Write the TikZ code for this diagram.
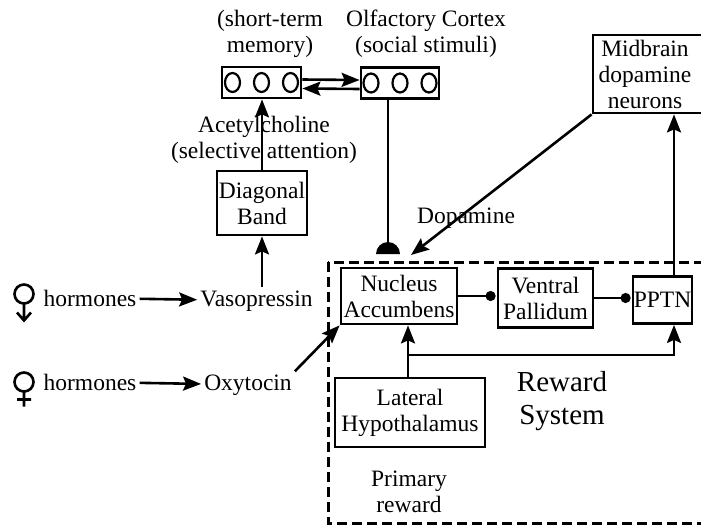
\documentclass[tikz,border=0pt]{standalone}
\usepackage{fontspec}
\setmainfont{Liberation Serif}
\usetikzlibrary{arrows.meta}

\begin{document}
\begin{tikzpicture}[x=1pt,y=-1pt,
  every node/.style={font=\fontsize{23.5}{26}\selectfont,inner sep=0pt},
  box/.style={draw,line width=2.8pt,align=center},
  lbl/.style={align=center},
  word/.style={inner sep=3pt,anchor=base},
  arr/.style={line width=2.6pt,-{Stealth[length=18pt,width=14pt,inset=3pt]}},
  inh/.style={line width=2.6pt,-{Circle[length=10pt]},shorten >=1pt}]

  \useasboundingbox (0,0) rectangle (701,528);

  % cortex
  \node [box,minimum width=79,minimum height=31] (stm) at (261.5,82.5) {};
  \node [box,minimum width=78,minimum height=31] (olf) at (400,83) {};
  \foreach \b in {stm,olf}
    \foreach \dx in {-29,0,29}
      \draw [line width=2.2pt] ([xshift=\dx pt]\b.center) ellipse [x radius=7.5pt,y radius=9.5pt];
  \node [lbl] (stmlbl) at (270,33.5) {(short-term\\memory)};
  \node [lbl] (olflbl) at (426,33.5) {Olfactory Cortex\\(social stimuli)};
  \draw [arr] ([yshift=3pt]stm.east) -- ([yshift=3pt]olf.west);
  \draw [arr] ([yshift=-6pt]olf.west) -- ([yshift=-6pt]stm.east);

  \node [box,minimum width=90,minimum height=64] (db) at (262,203) {Diagonal\\Band};
  \node [lbl] (achlbl) at (264,140) {Acetylcholine\\(selective attention)};
  \draw [arr] (db.north) -- (stm.south -| db.north);

  \node [box,minimum width=124,minimum height=78] (mid) at (655,74) {};
  \node [lbl] (midlbl) at (645,74) {Midbrain\\dopamine\\neurons};

  % hormones
  \node [word] (horm1) at (90,306) {hormones};
  \node [word] (vaso) at (256.5,306) {Vasopressin};
  \node [word] (horm2) at (90,390) {hormones};
  \node [word] (oxy) at (248,390) {Oxytocin};
  \draw [arr] (horm1) -- (vaso);
  \draw [arr] (horm2) -- (oxy);
  \draw [arr] (vaso.north -| db.south) -- (db.south);

  \coordinate (sym1) at (24,294);
  \coordinate (sym2) at (24,382);
  \draw [line width=2.6pt] (sym1) circle [radius=9.5pt] ++(0,9.5) -- ++(0,17)
    ++(-7,-8) -- ++(7,8) -- ++(7,-8);
  \draw [line width=2.6pt] (sym2) circle [radius=9.5pt] ++(0,9.5) -- ++(0,15)
    ++(-7,-7) -- ++(14,0);

  % reward system
  \draw [line width=3pt,dash pattern=on 10pt off 5pt] (328,262) rectangle (720,523);
  \node [box,minimum width=116,minimum height=56] (na) at (399,296) {Nucleus\\Accumbens};
  \node [box,minimum width=95,minimum height=59] (vp) at (545.5,298) {Ventral\\Pallidum};
  \node [box,minimum width=59,minimum height=47] (pptn) at (662.5,300) {PPTN};
  \node [box,minimum width=150,minimum height=69] (lh) at (410,412.5) {Lateral\\Hypothalamus};
  \node [lbl,font=\fontsize{29}{33}\selectfont] (rwd) at (562,401.5) {Reward\\System};
  \node [lbl] (prim) at (409,491.5) {Primary\\reward};

  \draw [inh] (na.east) -- (na.east -| vp.west);
  \draw [inh] (vp.east) -- (vp.east -| pptn.west);

  \coordinate (split) at (408,355);
  \coordinate (tap) at (674,355);
  \draw [arr] (lh.north -| split) -- (split) -- (na.south -| split);
  \draw [arr] (split) -- (tap) -- (pptn.south -| tap);
  \draw [arr] (pptn.north -| tap) -- (mid.south -| tap);

  % dopamine and olfactory input
  \coordinate (dome) at (388,254);
  \coordinate (dtip) at (411,255);
  \node (dopa) at (466,218) {Dopamine};
  \draw [arr] (mid.south west) -- (dtip);
  \draw [line width=2.6pt] (olf.south -| dome) -- (dome);
  \fill ([xshift=-12pt]dome) arc [start angle=180,end angle=0,radius=12pt] -- cycle;
  \draw [arr] (oxy.north east) -- (na.south west);

\end{tikzpicture}
\end{document}
